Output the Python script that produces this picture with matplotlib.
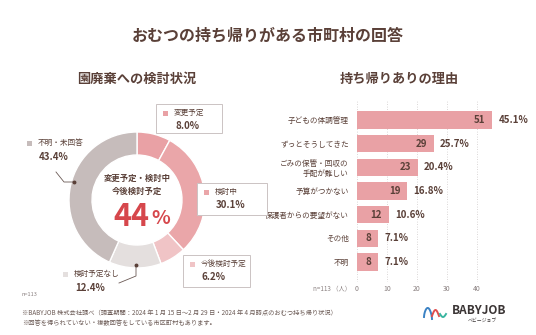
import numpy as np
import matplotlib
matplotlib.use("Agg")
import matplotlib.pyplot as plt
from matplotlib.patches import Rectangle

plt.rcParams['font.family'] = ['Noto Sans CJK JP', 'DejaVu Sans']

# Data
pie_labels = ["変更予定", "検討中", "今後検討予定", "検討予定なし", "不明・未回答"]
pie_values = [8.0, 30.1, 6.2, 12.4, 43.4]
pie_colors = ["#e9a1a5", "#eaa6a9", "#f0c4c6", "#e4dfde", "#c6bcbb"]

reasons = ["子どもの体調管理", "ずっとそうしてきた", "ごみの保管・回収の\n手配が難しい",
           "予算がつかない", "保護者からの要望がない", "その他", "不明"]
counts = [51, 29, 23, 19, 12, 8, 8]
shares = [45.1, 25.7, 20.4, 16.8, 10.6, 7.1, 7.1]
xticks = [0, 10, 20, 30, 40]

brown = "#5a4038"
W, H = 536, 335

fig = plt.figure(figsize=(W / 100, H / 100), dpi=100)
fig.patch.set_facecolor("white")

# donut (pixel units, centre 137,200)
cx, cy, R = 137, 200, 68
axp = fig.add_axes([(cx - 72) / W, (H - cy - 72) / H, 144 / W, 144 / H])
axp.pie(pie_values, colors=pie_colors, startangle=90, counterclock=False,
        radius=R, wedgeprops=dict(width=23, edgecolor="white", linewidth=1))
axp.set_xlim(-72, 72)
axp.set_ylim(-72, 72)
axp.set_aspect("equal")
axp.axis("off")

# bar chart
axb = fig.add_axes([357 / W, (H - 282) / H, (W - 357) / W, 182 / H])
ypos = np.arange(len(reasons))
axb.barh(ypos, shares, height=0.72, color="#e9a1a5")
axb.set_xlim(0, (W - 357) / 3)
axb.set_ylim(6.845, -0.845)
axb.set_xticks(xticks)
axb.set_xticklabels([str(t) for t in xticks], fontsize=5, color="#8a8080")
axb.set_yticks(ypos)
axb.set_yticklabels(reasons, fontsize=5.5, color=brown, ha="right", multialignment="right")
axb.tick_params(length=0, axis="y", pad=6)
axb.tick_params(length=0, axis="x", pad=2)
for s in axb.spines.values():
    s.set_visible(False)
for t in xticks:
    axb.axvline(t, color="#cfcaca", lw=0.6, ls=(0, (1, 2)), zorder=0)
for i, (c, p) in enumerate(zip(counts, shares)):
    axb.text(p - 2.2, i, str(c), ha="right", va="center", fontsize=7,
             fontweight="bold", color=brown)
    axb.text(p + 2.0, i, f"{p}%", ha="left", va="center", fontsize=7,
             fontweight="bold", color=brown)

# overlay for texts, boxes, leader lines
ax = fig.add_axes([0, 0, 1, 1], zorder=5)
ax.set_xlim(0, W)
ax.set_ylim(H, 0)
ax.axis("off")
ax.patch.set_alpha(0)

ax.text(W / 2, 36, "おむつの持ち帰りがある市町村の回答", ha="center", va="center",
        fontsize=11.5, fontweight="bold", color=brown)
ax.text(137, 79, "園廃棄への検討状況", ha="center", va="center",
        fontsize=9.5, fontweight="bold", color=brown)
ax.text(399, 79, "持ち帰りありの理由", ha="center", va="center",
        fontsize=9.5, fontweight="bold", color=brown)

# centre of donut
ax.text(cx, 178, "変更予定・検討中", ha="center", va="center", fontsize=6,
        fontweight="bold", color=brown)
ax.text(cx, 191, "今後検討予定", ha="center", va="center", fontsize=6,
        fontweight="bold", color=brown)
ax.text(149, 217, "44", ha="right", va="center", fontsize=22,
        fontweight="bold", color="#d6474c")
ax.text(151, 219, "%", ha="left", va="center", fontsize=14,
        fontweight="bold", color="#d6474c")

# boxed labels (x0, y0, x1, y1, index)
boxes = [(156, 104, 222, 133, 0), (197, 183, 267, 215, 1), (183, 255, 250, 287, 2)]
for x0, y0, x1, y1, k in boxes:
    ax.add_patch(Rectangle((x0, y0), x1 - x0, y1 - y0, facecolor="white",
                           edgecolor="#cbc3c3", lw=0.7))
    ax.add_patch(Rectangle((x0 + 7, y0 + 6.5), 5, 5, facecolor=pie_colors[k],
                           edgecolor="none"))
    ax.text(x0 + 18, y0 + 9, pie_labels[k], ha="left", va="center", fontsize=5.5,
            color=brown)
    ax.text(x0 + 19, y0 + 22, f"{pie_values[k]}%", ha="left", va="center",
            fontsize=7, fontweight="bold", color=brown)

# free labels
free = [(27, 143, 4), (63, 274, 3)]
for x0, y0, k in free:
    ax.add_patch(Rectangle((x0, y0 - 2.5), 5, 5, facecolor=pie_colors[k],
                           edgecolor="none"))
    ax.text(x0 + 11, y0, pie_labels[k], ha="left", va="center", fontsize=5.5,
            color=brown)
    ax.text(x0 + 12, y0 + 14, f"{pie_values[k]}%", ha="left", va="center",
            fontsize=7, fontweight="bold", color=brown)

ax.plot([56, 64, 74], [172, 182, 182], color="#6b5a55", lw=0.6)
ax.plot([74], [182], "o", color="#5a4038", ms=1.8)
ax.plot([136, 136, 119], [265, 276, 283], color="#6b5a55", lw=0.6)
ax.plot([136], [265], "o", color="#5a4038", ms=1.8)

ax.text(22, 294, "n=113", ha="left", va="center", fontsize=4, color="#8a8080")
ax.text(351, 288, "n=113 （人）", ha="right", va="center", fontsize=4.5,
        color="#8a8080")

ax.text(22, 313, "※BABYJOB 株式会社調べ（調査期間：2024 年 1 月 15 日～2 月 29 日・2024 年 4 月時点のおむつ持ち帰り状況）",
        ha="left", va="center", fontsize=4.5, color="#6b5a55")
ax.text(22, 323, "※回答を得られていない・複数回答をしている市区町村もあります。",
        ha="left", va="center", fontsize=4.5, color="#6b5a55")

# logo
tt = np.linspace(0, 1, 40)
ax.plot(424 + 8 * tt, 317 - 10 * np.sin(np.pi * tt) ** 0.6 + 2 * tt, color="#3b82c4", lw=1.4)
ax.plot(432 + 7 * tt, 316 - 6 * np.sin(np.pi * tt), color="#e04f4f", lw=1.4)
ax.plot(440 + 6 * tt, 314 + 3 * np.sin(np.pi * tt), color="#39b5a0", lw=1.4)
ax.text(452, 311, "BABYJOB", ha="left", va="center", fontsize=8.5,
        fontweight="bold", color="#3b3535")
ax.text(482, 320, "ベビージョブ", ha="center", va="center", fontsize=3.5,
        color="#3b3535")

fig.savefig("out.png", dpi=100, facecolor="white")
